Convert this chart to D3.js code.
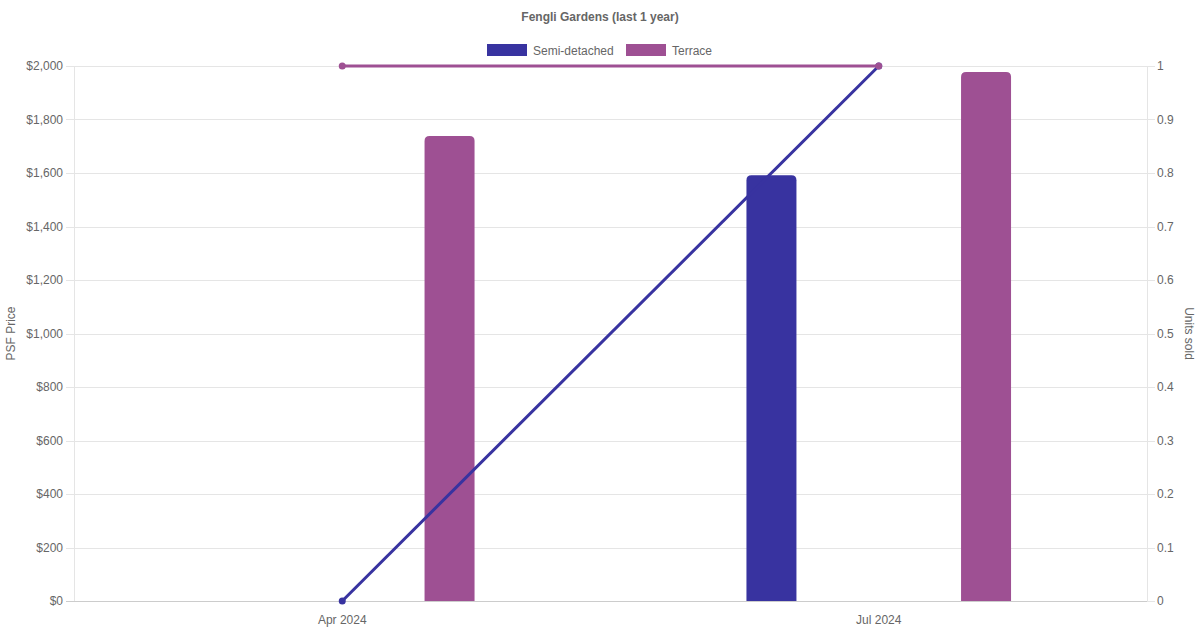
<!DOCTYPE html>
<html><head><meta charset="utf-8">
<script src="https://cdn.jsdelivr.net/npm/d3@7"></script>
<style>body{margin:0;background:#fff;}svg{display:block;font-family:"Liberation Sans",Arial,sans-serif;}</style>
</head><body><svg id="c" width="1200" height="630"></svg>
<script>
const categories = ["Apr 2024", "Jul 2024"];
const seriesNames = ["Semi-detached", "Terrace"];
const psfSemi = [null, 1592];
const psfTerrace = [1738, 1978];
const unitsSemi = [0, 1];
const unitsTerrace = [1, 1];
const leftTicks = [0,200,400,600,800,1000,1200,1400,1600,1800,2000];
const rightTicks = [0,0.1,0.2,0.3,0.4,0.5,0.6,0.7,0.8,0.9,1];
const colors = ["#3833a0", "#9e5093"];

const svg = d3.select("#c");
const L = 74, R = 1147, T = 66, B = 601;
const x = d3.scaleBand().domain(categories).range([L, R]);
const yL = d3.scaleLinear().domain([0, 2000]).range([B, T]);
const yR = d3.scaleLinear().domain([0, 1]).range([B, T]);
const grey = "#666";

svg.append("text").attr("x", 600).attr("y", 21).attr("text-anchor", "middle")
  .attr("font-size", 12).attr("font-weight", "bold").attr("fill", grey).text("Fengli Gardens (last 1 year)");

const lg = [{n: seriesNames[0], c: colors[0], x: 487}, {n: seriesNames[1], c: colors[1], x: 626}];
lg.forEach(d => {
  svg.append("rect").attr("x", d.x).attr("y", 44).attr("width", 40).attr("height", 12).attr("fill", d.c);
  svg.append("text").attr("x", d.x + 46).attr("y", 54.5).attr("font-size", 12).attr("fill", grey).text(d.n);
});

svg.append("g").selectAll("line").data(leftTicks).join("line")
  .attr("x1", L - 8).attr("x2", R).attr("y1", d => Math.round(yL(d)) + 0.5).attr("y2", d => Math.round(yL(d)) + 0.5)
  .attr("stroke", d => d === 0 ? "#cccccc" : "#e5e5e5");
svg.append("g").selectAll("line").data(rightTicks).join("line")
  .attr("x1", R).attr("x2", R + 8).attr("y1", d => Math.round(yR(d)) + 0.5).attr("y2", d => Math.round(yR(d)) + 0.5)
  .attr("stroke", "#e5e5e5");
svg.append("line").attr("x1", L + 0.5).attr("x2", L + 0.5).attr("y1", T).attr("y2", B).attr("stroke", "#e5e5e5");
svg.append("line").attr("x1", R + 0.5).attr("x2", R + 0.5).attr("y1", T).attr("y2", B).attr("stroke", "#e5e5e5");

svg.append("g").selectAll("text").data(leftTicks).join("text")
  .attr("x", L - 11).attr("y", d => yL(d) + 4).attr("text-anchor", "end").attr("font-size", 12).attr("fill", grey)
  .text(d => "$" + d3.format(",")(d));
svg.append("g").selectAll("text").data(rightTicks).join("text")
  .attr("x", R + 10).attr("y", d => yR(d) + 4).attr("font-size", 12).attr("fill", grey)
  .text(d => d3.format("")(d));
svg.append("g").selectAll("text").data(categories).join("text")
  .attr("x", d => x(d) + x.bandwidth()/2).attr("y", B + 23).attr("text-anchor", "middle").attr("font-size", 12).attr("fill", grey)
  .text(d => d);

svg.append("text").attr("transform", `translate(15,${(T+B)/2}) rotate(-90)`).attr("text-anchor", "middle")
  .attr("font-size", 12).attr("fill", grey).text("PSF Price");
svg.append("text").attr("transform", `translate(1185,${(T+B)/2}) rotate(90)`).attr("text-anchor", "middle")
  .attr("font-size", 12).attr("fill", grey).text("Units sold");

const inner = d3.scaleBand().domain([0, 1]).range([0, x.bandwidth()]).paddingInner(0).paddingOuter(0.25);
function roundTop(x0, y0, w, h, r) {
  r = Math.min(r, h);
  return `M${x0},${y0+h}V${y0+r}Q${x0},${y0} ${x0+r},${y0}H${x0+w-r}Q${x0+w},${y0} ${x0+w},${y0+r}V${y0+h}Z`;
}
[psfSemi, psfTerrace].forEach((vals, si) => {
  const data = categories.map((c, i) => ({c, v: vals[i]})).filter(d => d.v != null);
  svg.append("g").selectAll("path").data(data).join("path")
    .attr("d", d => {
      const cx = x(d.c) + inner(si) + inner.bandwidth()/2;
      const w = 50;
      return roundTop(cx - w/2, yL(d.v), w, B - yL(d.v), 5);
    })
    .attr("fill", colors[si]);
});

[unitsSemi, unitsTerrace].forEach((vals, si) => {
  const pts = categories.map((c, i) => ({c, v: vals[i]}));
  const line = d3.line().defined(d => d.v != null)
    .x(d => x(d.c) + x.bandwidth()/2).y(d => yR(d.v));
  svg.append("path").datum(pts).attr("d", line).attr("fill", "none")
    .attr("stroke", colors[si]).attr("stroke-width", 3);
  svg.append("g").selectAll("circle").data(pts.filter(d => d.v != null)).join("circle")
    .attr("cx", d => x(d.c) + x.bandwidth()/2).attr("cy", d => yR(d.v)).attr("r", 3.5)
    .attr("fill", colors[si]);
});
</script></body></html>
